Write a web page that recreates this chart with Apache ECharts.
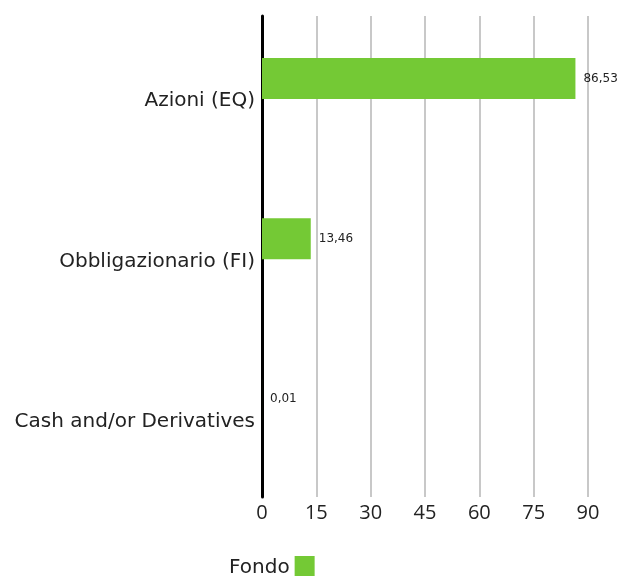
<!DOCTYPE html>
<html><head><meta charset="utf-8">
<script src="https://cdn.jsdelivr.net/npm/echarts@6/dist/echarts.min.js"></script>
<style>html,body{margin:0;padding:0;background:#fff}#c{width:622px;height:577px}</style>
</head><body><div id="c"></div>
<script>
const categories = ["Azioni (EQ)", "Obbligazionario (FI)", "Cash and/or Derivatives"];
const fondoValues = [86.53, 13.46, 0.01];
const seriesName = "Fondo";
const xTicks = [0, 15, 30, 45, 60, 75, 90];

const chart = echarts.init(document.getElementById('c'));
const font = "'Open Sans', sans-serif";
const dv = "'DejaVu Sans', sans-serif";
chart.setOption({
  animation: false,
  grid: { left: 262, right: 34, top: 16, bottom: 80 },
  legend: {
    data: [seriesName], top: 554, left: 229, align: 'right',
    itemWidth: 20, itemHeight: 20, itemGap: 8, padding: 0,
    icon: 'rect',
    formatter: n => '{a|' + n + '}',
    textStyle: { fontSize: 20, color: '#222', fontFamily: dv,
      rich: { a: { fontSize: 20, color: '#222', fontFamily: dv, lineHeight: 20, padding: [4, 0, 0, 0] } } }
  },
  xAxis: {
    type: 'value', min: xTicks[0], max: xTicks[xTicks.length - 1], interval: 15,
    axisLine: { show: false }, axisTick: { show: false },
    splitLine: { show: true, lineStyle: { color: '#c8c8c8', width: 2 } },
    axisLabel: { fontSize: 20, color: '#222', fontFamily: font, margin: 6 }
  },
  yAxis: {
    type: 'category', data: categories, inverse: true,
    axisLine: { show: true, lineStyle: { color: '#000', width: 3 } },
    axisTick: { show: false },
    axisLabel: { fontSize: 20, color: '#222', fontFamily: dv, margin: 7, verticalAlign: 'top', lineHeight: 10 }
  },
  series: [
    {
      name: seriesName, type: 'bar', data: fondoValues, barWidth: 41, barGap: '-14%',
      itemStyle: { color: '#74c935' },
      label: {
        show: true, position: 'right', distance: 8, fontSize: 12, color: '#222', fontFamily: dv,
        formatter: p => p.value.toFixed(2).replace('.', ',')
      }
    },
    { name: 'dummy', type: 'bar', data: [], barWidth: 41 }
  ]
});
</script></body></html>
